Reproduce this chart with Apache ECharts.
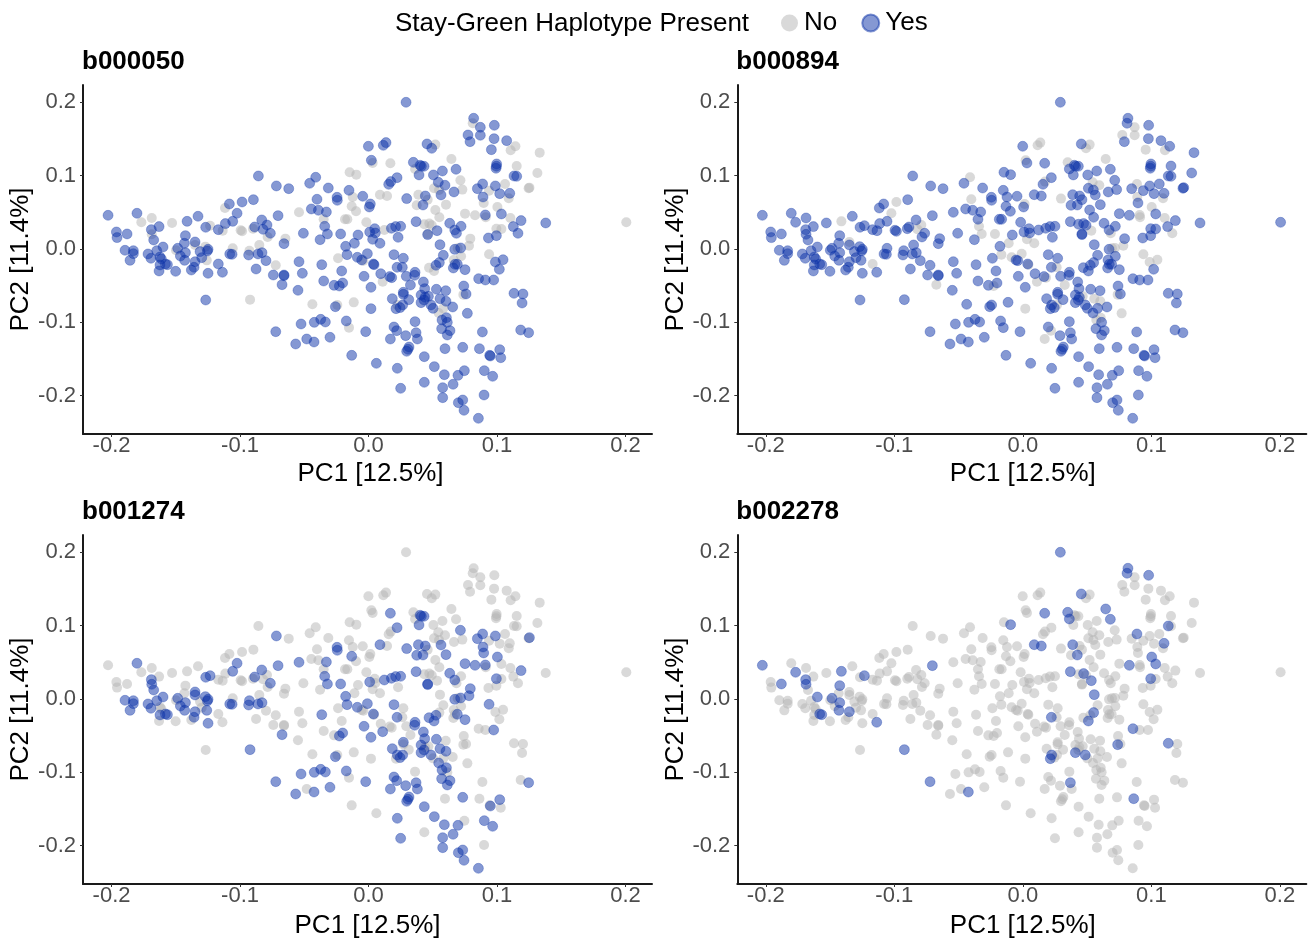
<!DOCTYPE html>
<html><head><meta charset="utf-8">
<style>html,body{margin:0;padding:0;background:#fff}#c{width:1310px;height:940px}</style>
<script src="https://cdn.jsdelivr.net/npm/echarts@6/dist/echarts.min.js"></script>
</head><body><div id="c"></div>
<script>
const panelNames = ['b000050','b000894','b001274','b002278'];
const xTicks = [-0.2,-0.1,0,0.1,0.2];
const yTicks = [-0.2,-0.1,0,0.1,0.2];
const pc1 = [
-0.2027,-0.1962,-0.1957,-0.1879,-0.1802,-0.1768,-0.1687,-0.1690,-0.1687,-0.1672,
-0.1630,-0.1895,-0.1830,-0.1830,-0.1856,-0.1716,-0.1693,-0.1648,-0.1599,-0.1623,
-0.1612,-0.1623,-0.1565,-0.1581,-0.1630,-0.1501,-0.1529,-0.1412,-0.1327,-0.1425,
-0.1433,-0.1485,-0.1498,-0.1425,-0.1464,-0.1431,-0.1350,-0.1350,-0.1270,-0.1311,
-0.1249,-0.1254,-0.1298,-0.1259,-0.1350,-0.1358,-0.1379,-0.1249,-0.1267,-0.1233,
-0.1169,-0.1135,-0.1169,-0.1137,-0.1267,-0.1117,-0.1083,-0.0984,-0.1023,-0.1057,
-0.1114,-0.0995,-0.0984,-0.0896,-0.0886,-0.0899,-0.0831,-0.0790,-0.0821,-0.0764,
-0.0785,-0.1057,-0.1080,-0.1062,-0.0927,-0.0933,-0.0850,-0.0860,-0.0829,-0.0798,
-0.0875,-0.0922,-0.0722,-0.0741,-0.0658,-0.0658,-0.0673,-0.0647,-0.0658,-0.0722,
-0.0857,-0.0717,-0.0621,-0.0704,-0.0541,-0.0507,-0.0541,-0.0515,-0.0549,-0.0525,
-0.0567,-0.0481,-0.0424,-0.0422,-0.0372,-0.0336,-0.0300,-0.0437,-0.0458,-0.0411,
-0.0313,-0.0401,-0.0445,-0.0390,-0.0328,-0.0349,-0.0341,-0.0320,-0.0377,-0.0364,
-0.0349,-0.0268,-0.0227,-0.0201,-0.0209,-0.0237,-0.0245,-0.0243,-0.0152,-0.0147,
-0.0095,-0.0123,-0.0131,-0.0097,-0.0183,-0.0165,-0.0217,-0.0082,-0.0110,-0.0178,
-0.0167,-0.0087,-0.0040,-0.0053,-0.0035,-0.0258,-0.0243,-0.0115,-0.0173,-0.0152,
-0.0022,-0.0131,-0.0045,
0.0292,-0.0001,0.0115,0.0136,0.0022,0.0032,0.0170,0.0222,0.0173,0.0157,
0.0089,0.0144,0.0014,0.0006,0.0297,-0.0017,0.0048,0.0009,0.0053,0.0032,
0.0089,0.0123,0.0178,0.0211,0.0250,0.0230,0.0370,0.0434,0.0473,0.0492,
0.0460,0.0460,0.0533,-0.0009,0.0198,0.0271,0.0038,0.0043,0.0222,0.0263,
0.0095,0.0165,0.0180,0.0110,0.0019,0.0294,0.0362,0.0359,0.0326,0.0427,
0.0437,0.0528,0.0601,0.0271,0.0271,0.0185,0.0313,0.0409,0.0466,0.0440,
0.0409,0.0432,0.0556,0.0603,0.0486,0.0502,0.0655,0.0546,0.0582,0.0019,
0.0214,0.0245,0.0224,0.0266,0.0769,0.0362,0.0572,0.0606,0.0613,0.0198,
0.0219,0.0569,0.0634,0.0613,0.0289,0.0370,0.0380,0.0170,0.0315,0.0307,
0.0297,0.0595,0.0733,0.0863,0.0434,0.0943,0.0948,0.1021,0.1029,0.0061,
0.0224,0.0512,0.0590,0.0696,0.0746,0.0901,0.0966,0.0434,0.0658,0.0577,
0.0250,0.0577,0.0699,0.0733,0.0743,0.0899,0.0855,0.0886,0.1184,0.1246,
0.1132,0.1202,0.1195,0.0741,0.0759,0.0738,0.0857,0.0909,0.0974,0.0751,
0.1018,0.0987,0.1047,0.0938,0.0671,0.0694,0.0717,0.0782,0.0792,0.0720,
0.0582,0.0556,0.0663,0.0660,0.0673,0.0691,0.0471,0.0510,0.0525,0.0551,
0.0632,0.0671,0.0684,0.0720,0.0933,0.0995,0.1127,0.1163,0.1187,0.1379,
0.2006,0.1104,0.1034,0.0995,0.1003,0.1034,0.0909,0.0912,0.0829,0.0751,
0.0551,0.0603,0.0520,0.0424,0.0375,0.0442,0.0388,0.0460,0.0564,0.0543,
0.0510,0.0549,0.0595,0.0665,0.0730,0.0715,0.0681,0.0645,0.0575,0.0505,
0.0393,0.0362,0.0349,0.0401,0.0411,0.0432,0.0455,0.0492,0.0520,0.0818,
0.0811,0.0870,0.0774,0.0870,0.0979,0.0977,0.0790,0.1075,0.0956,0.1143,
0.1106,0.1332,0.0997,0.0992,0.0995,0.1153,0.1314,0.1132,0.1153,0.1062,
0.0987,0.0888,0.0847,0.0938,0.1021,0.1099,0.1091,0.0891,0.0896,0.1252,
0.1246];
const pc2 = [
0.0459,0.0232,0.0155,0.0205,0.0487,0.0364,0.0423,0.0264,0.0200,0.0123,
0.0305,-0.0018,-0.0023,-0.0064,-0.0155,-0.0068,-0.0127,-0.0023,0.0027,-0.0109,
-0.0136,-0.0218,-0.0214,-0.0205,-0.0300,-0.0305,0.0355,0.0377,0.0446,0.0182,
0.0077,0.0009,-0.0018,-0.0050,-0.0096,-0.0155,0.0096,0.0055,0.0032,-0.0036,
-0.0005,-0.0027,-0.0118,-0.0155,-0.0173,-0.0250,-0.0287,-0.0332,0.0296,0.0318,
0.0264,0.0250,-0.0205,-0.0318,-0.0696,0.0559,0.0614,0.0641,0.0487,0.0377,
0.0346,0.0255,0.0241,0.0673,0.0300,0.0277,0.0396,0.0327,0.0268,0.0214,
0.0164,0.0009,-0.0068,-0.0073,-0.0023,-0.0082,0.0055,-0.0068,-0.0050,-0.0159,
-0.0273,-0.0691,-0.0223,-0.0355,-0.0355,-0.0364,-0.0487,0.0141,0.0073,-0.1128,
0.0996,0.0860,0.0823,0.0455,0.0500,0.0214,-0.0173,-0.0332,-0.0564,-0.1023,
-0.1296,-0.1228,-0.1269,-0.1001,-0.0960,-0.0996,-0.1205,-0.0755,0.0896,0.0978,
0.0832,0.0678,0.0546,0.0528,0.0505,0.0405,0.0309,0.0205,0.0127,-0.0214,
-0.0437,-0.0496,-0.0505,-0.0464,-0.0300,-0.0127,0.0705,0.0664,0.0800,0.1046,
0.1014,0.0709,0.0582,0.0514,0.0405,0.0405,0.0205,0.0191,0.0077,0.0036,
-0.0077,-0.0114,-0.0159,-0.0150,-0.0373,-0.0787,-0.0764,-0.0728,-0.0982,-0.1073,
-0.1128,-0.1451,0.0719,
0.2001,0.1401,0.1414,0.1451,0.1210,0.1173,0.1169,0.0973,0.0919,0.0882,
0.0741,0.0723,0.0614,0.0573,0.0687,0.0364,0.0277,0.0232,0.0218,0.0132,
0.0077,0.0259,0.0282,0.0305,0.0309,0.0159,0.0373,0.0337,0.0346,0.0323,
0.0196,0.0205,0.0250,-0.0064,-0.0077,-0.0127,-0.0205,-0.0214,-0.0250,-0.0250,
-0.0337,-0.0377,-0.0391,-0.0446,-0.0523,-0.0373,-0.0318,-0.0359,-0.0491,-0.0450,
-0.0541,-0.0550,-0.0569,-0.0591,-0.0619,-0.0678,-0.0691,-0.0628,-0.0646,-0.0659,
-0.0732,-0.0696,-0.0678,-0.0714,-0.0764,-0.0810,-0.0791,-0.0873,-0.0810,-0.0814,
-0.0814,-0.0800,-0.0764,-0.0764,-0.0878,-0.0991,-0.0969,-0.0937,-0.1001,-0.1064,
-0.1114,-0.1087,-0.1114,-0.1173,-0.1182,-0.1142,-0.1228,-0.1228,-0.1337,-0.1369,
-0.1396,-0.1360,-0.1342,-0.1360,-0.1469,-0.1451,-0.1460,-0.1373,-0.1483,-0.1560,
-0.1628,-0.1605,-0.1715,-0.1724,-0.1660,-0.1660,-0.1737,-0.1819,-0.1846,-0.1892,
-0.1901,-0.2028,-0.2097,-0.2060,-0.2201,-0.1992,-0.2310,-0.1132,-0.1105,-0.1142,
-0.0605,-0.0614,-0.0737,-0.0505,-0.0614,-0.0623,-0.0405,-0.0423,-0.0423,-0.0282,
-0.0277,-0.0177,-0.0146,-0.0073,-0.0005,0.0009,0.0014,0.0045,0.0141,-0.0100,
-0.0086,0.0059,-0.0150,-0.0259,-0.0209,-0.0209,-0.0255,-0.0300,-0.0223,-0.0186,
0.0350,0.0259,0.0214,0.0309,0.0150,0.0182,0.0305,0.0214,0.0387,0.0355,
0.0364,0.0423,0.0273,0.0277,0.0573,0.0478,0.0464,0.0432,0.0459,0.0482,
0.0432,0.0605,0.0532,0.0600,0.0596,0.0723,0.0741,0.0673,0.0737,0.0910,
0.0828,0.0805,0.0869,0.0778,0.0810,0.0937,0.1087,0.1228,0.1064,0.1010,
0.1010,0.1092,0.1182,0.1142,0.1128,0.1128,0.1433,0.1373,0.1424,0.1783,
0.1715,0.1660,0.1555,0.1551,0.1687,0.1505,0.1464,0.1478,0.1355,0.1401,
0.1346,0.1314,0.1160,0.1101,0.1128,0.1132,0.1037,0.0996,0.0991,0.0887,
0.0860,0.0887,0.0823,0.0796,0.0755,0.0759,0.0691,0.0709,0.0628,0.0837,
0.0828];
// one digit per panel, in panelNames order: 1 = haplotype present
const haplotype = [
'1101','1100','1100','1101','1110','0101','0100','1111','0111','1110',
'1100','1110','1110','1110','1110','1110','1110','1110','1111','1100',
'1100','1110','1111','1111','1100','1100','0100','1001','1100','1101',
'1100','1111','0100','1111','1110','1111','1010','0110','0110','1100',
'1110','1110','1100','0110','1111','1110','1100','1110','1110','0111',
'1100','0100','1000','1101','1100','0100','1100','1000','1010','1110',
'1100','0100','0100','1100','1110','0100','1110','1000','1000','1110',
'0100','0100','1110','1110','0110','1110','0100','1110','1110','1100',
'1100','0111','0100','1100','1100','1100','1010','0100','1100','1111',
'1100','1110','1100','1111','0110','1100','1100','1100','1100','1110',
'1110','1100','1111','1110','1110','1110','1110','0100','1100','1000',
'1100','1000','1100','1100','1110','0100','1010','1010','1100','1110',
'1100','1100','1010','1110','1100','0100','1110','1110','1100','0100',
'0101','0100','0110','0100','0100','0100','1010','1100','1000','1110',
'1010','1010','0100','1100','1110','1110','0100','0100','1110','0100',
'1110','1100','1100',
'1101','1100','1000','1000','1000','0100','0111','1110','1000','1100',
'0111','0101','1000','1100','1010','0100','1100','1110','1100','1000',
'1000','0110','1110','1110','1110','1100','1111','0100','0101','0100',
'1110','0110','1001','1010','1110','1100','1110','1000','1111','1000',
'1100','1100','1000','0010','1110','1100','1110','1110','1000','1110',
'1110','1110','1100','1110','1100','1110','1100','1110','1000','1100',
'1111','1110','1010','1010','1111','1100','1100','0110','0100','1000',
'1101','1110','0111','1010','1000','1100','1010','1010','1100','1110',
'1010','1110','1110','1110','1110','1111','1110','1010','1110','1110',
'1110','1100','1110','1101','1110','1100','1110','1110','1100','1100',
'1110','1110','1110','1110','1100','1110','1110','1100','1110','1110',
'1110','1110','1110','1110','1110','1100','1110','1100','1100','1110',
'1101','1100','1100','1100','1100','0001','1101','1100','1110','1110',
'1100','1000','1000','0010','1110','0000','1010','0010','0110','0100',
'1100','1101','0100','1100','1100','1110','0110','0111','1110','1101',
'1110','1110','1000','1100','1100','1100','1100','1000','1110','1100',
'0100','0000','0100','0111','0011','1101','1010','0000','0111','0110',
'0100','0110','0100','1111','0110','1110','0111','0100','1110','1000',
'0100','0100','1000','1100','0100','0110','1101','0001','1100','1100',
'1110','0101','1001','1110','1110','1110','1101','1000','0000','1101',
'0101','1000','1000','1000','1101','1100','1100','1100','1000','0100',
'0000','0100','1100','1100','1100','0100','0100','1101','1100','0100',
'1110','1011','1110','0100','1100','1101','0000','1010','0110','0110',
'0100'];

const legendTitle = 'Stay-Green Haplotype Present';
const FONT = '"Liberation Sans", Arial, sans-serif';
const yesColor = '#0b32a8', noColor = '#b4b4b4';
const lefts = [83, 737.3, 83, 737.3], tops = [85, 85, 535, 535];
const xNameGaps = [27, 27, 29, 29], xNameShift = [6, 2, 0, 2];
const W = 569, H = 349;

const grids=[], xAxes=[], yAxes=[], series=[], titles=[];
const fmt = v => { const s=(Math.round(v*10)/10).toFixed(1); return s==='-0.0'?'0.0':s; };
panelNames.forEach((name,i)=>{
  grids.push({left:lefts[i],top:tops[i],width:W,height:H,containLabel:false});
  titles.push({text:name,left:lefts[i]-1,top:tops[i]-36,padding:0,textStyle:{fontFamily:FONT,fontSize:26,fontWeight:'bold',color:'#000'}});
  xAxes.push({gridIndex:i,type:'value',min:-0.2222,max:0.2206,name:'PC1 [12.5%]',nameLocation:'middle',nameGap:xNameGaps[i],
    nameTextStyle:{fontFamily:FONT,fontSize:26,color:'#000',padding:[0,0,0,xNameShift[i]]},splitLine:{show:false},
    axisLine:{onZero:false,lineStyle:{color:'#1a1a1a',width:2}},
    axisTick:{show:true,length:3,customValues:xTicks,lineStyle:{color:'#333',width:1}},
    axisLabel:{customValues:xTicks,formatter:fmt,fontFamily:FONT,fontSize:22,color:'#4d4d4d',margin:1,hideOverlap:false}});
  yAxes.push({gridIndex:i,type:'value',min:-0.2524,max:0.2237,name:'PC2 [11.4%]',nameLocation:'middle',nameGap:47,
    nameTextStyle:{fontFamily:FONT,fontSize:26,color:'#000'},splitLine:{show:false},
    axisLine:{onZero:false,lineStyle:{color:'#1a1a1a',width:2}},
    axisTick:{show:true,length:3,customValues:yTicks,lineStyle:{color:'#333',width:1}},
    axisLabel:{customValues:yTicks,formatter:fmt,fontFamily:FONT,fontSize:22,color:'#4d4d4d',margin:7,padding:[0,0,6,0],hideOverlap:false}});
  const no=[],yes=[];
  pc1.forEach((x,k)=>{ (haplotype[k][i]==='1'?yes:no).push([x,pc2[k]]); });
  series.push({name:'No',type:'scatter',xAxisIndex:i,yAxisIndex:i,data:no,symbolSize:10,silent:true,z:2,
    itemStyle:{color:noColor,opacity:0.5,borderWidth:0}});
  series.push({name:'Yes',type:'scatter',xAxisIndex:i,yAxisIndex:i,data:yes,symbolSize:10,silent:true,z:3,
    itemStyle:{color:yesColor,opacity:0.5,borderColor:yesColor,borderWidth:0.6}});
});
titles.push({text:legendTitle,left:395,top:11,padding:0,textStyle:{fontFamily:FONT,fontSize:26,fontWeight:'normal',color:'#000'}});

const chart = echarts.init(document.getElementById('c'),null,{renderer:'canvas'});
chart.setOption({
  animation:false,backgroundColor:'#fff',title:titles,grid:grids,xAxis:xAxes,yAxis:yAxes,series,
  legend:{left:781,top:10,padding:0,icon:'circle',itemWidth:17,itemHeight:17,itemGap:24,selectedMode:false,
    data:['No','Yes'],textStyle:{fontFamily:FONT,fontSize:26,color:'#000',padding:[0,0,0,1]}}
});
</script></body></html>
